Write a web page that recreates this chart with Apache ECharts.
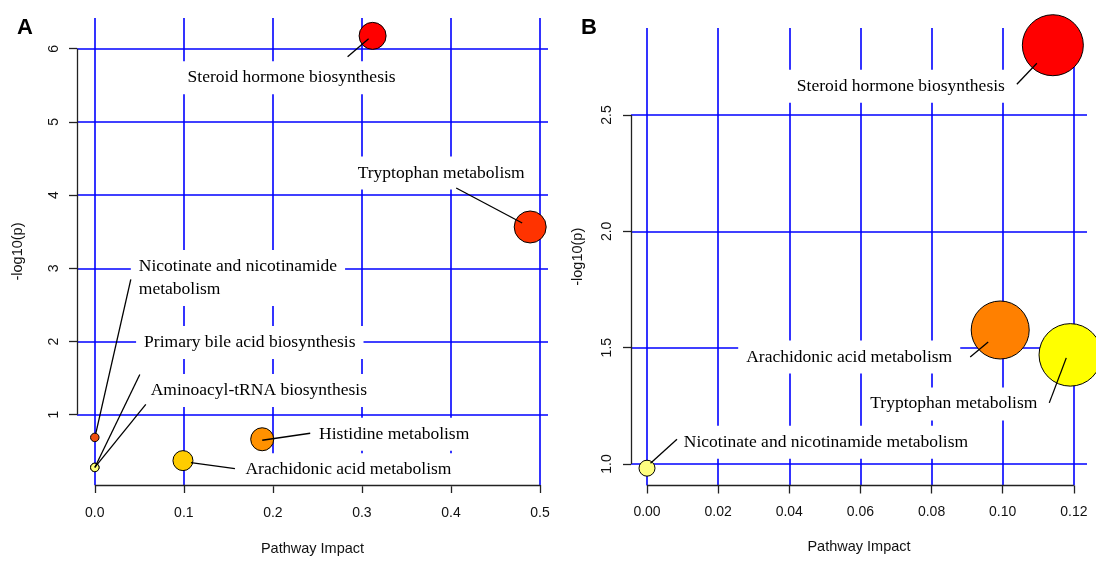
<!DOCTYPE html>
<html><head><meta charset="utf-8">
<script src="https://cdn.jsdelivr.net/npm/echarts@6/dist/echarts.min.js"></script>
<style>html,body{margin:0;padding:0;background:#fff}#c{width:1096px;height:561px}</style>
</head><body><div id="c"></div>
<script>
// ---------- Panel A data ----------
const pathwaysA = ['Steroid hormone biosynthesis', 'Tryptophan metabolism', 'Nicotinate and nicotinamide\nmetabolism',
  'Primary bile acid biosynthesis', 'Aminoacyl-tRNA biosynthesis', 'Histidine metabolism', 'Arachidonic acid metabolism'];
const impactA = [0.312, 0.489, 0, 0, 0, 0.188, 0.099];
const logPA = [6.176, 3.565, 0.69, 0.28, 0.28, 0.665, 0.373];
const xTicksA = [0, 0.1, 0.2, 0.3, 0.4, 0.5];
const yTicksA = [1, 2, 3, 4, 5, 6];
const xRangeA = [-0.0200, 0.5090];
const yRangeA = [0.04, 6.42];

// ---------- Panel B data ----------
const pathwaysB = ['Steroid hormone biosynthesis', 'Arachidonic acid metabolism', 'Tryptophan metabolism',
  'Nicotinate and nicotinamide metabolism'];
const impactB = [0.1141, 0.0993, 0.119, 0];
const logPB = [2.80, 1.576, 1.469, 0.982];
const xTicksB = [0, 0.02, 0.04, 0.06, 0.08, 0.10, 0.12];
const yTicksB = [1.0, 1.5, 2.0, 2.5];
const xRangeB = [-0.0045, 0.1237];
const yRangeB = [0.9076, 2.874];

// ---------- styles (not data) ----------
const colorsA = ['#FF0000', '#FF3300', '#F0500F', '#FFFF77', '#FFFF77', '#FF9100', '#FFCC00'];
const sizesA = [27, 32, 8.5, 8.5, 8.5, 23, 20];
const offsetsA = [[-81, 42], [-89, -54], [36, -159.5], [155, -125], [164, -77], [132, -5], [165.5, 9]];
const alignA = ['center', 'center', 'left', 'center', 'center', 'center', 'center'];
// leader line [startDx, startDy, endDx, endDy] in px relative to the bubble centre
const leadA = [[-4, 3, -25, 21], [-8, -4, -74, -39], [1, -4, 36, -158], [0, 0, 45, -93], [0, 0, 51, -63], [0, 1, 48, -6], [8, 2, 52, 8]];

const colorsB = ['#FF0000', '#FF8000', '#FFFF00', '#FFFF80'];
const sizesB = [61, 58, 62.5, 16];
const offsetsB = [[-152, 41], [-151, 27], [-116.5, 49], [179, -26]];
const alignB = ['center', 'center', 'center', 'center'];
const leadB = [[-16, 18, -36, 39], [-12, 12, -30, 27], [-4, 3, -21, 48], [3.5, -5, 30, -29]];

const SERIF = 'Liberation Serif';
const SANS = 'Liberation Sans';
const GRID_BLUE = '#0000FF';

// R-style axis lines (from first to last tick), drawn through the axes' scales
function axisSeries(idx, xr, yr, xt, yt) {
  return {
    type: 'scatter', xAxisIndex: idx, yAxisIndex: idx, data: [], z: 1, silent: true, animation: false,
    markLine: {
      silent: true, symbol: 'none', animation: false, label: { show: false },
      emphasis: { disabled: true },
      lineStyle: { color: '#222', width: 1.3, type: 'solid' },
      data: [
        [{ coord: [xr[0], yt[0]] }, { coord: [xr[0], yt[yt.length - 1]] }],
        [{ coord: [xt[0], yr[0]] }, { coord: [xt[xt.length - 1], yr[0]] }]
      ]
    }
  };
}

function bubbleSeries(idx, names, xs, ys, colors, sizes, offsets, aligns) {
  return {
    type: 'scatter', xAxisIndex: idx, yAxisIndex: idx, clip: false, animation: false, z: 3,
    data: names.map((n, i) => ({
      name: n, value: [xs[i], ys[i]], symbolSize: sizes[i],
      itemStyle: { color: colors[i] },
      label: Object.assign({ offset: offsets[i], align: aligns[i] },
        n.indexOf('\n') >= 0 ? { lineHeight: 23, padding: [5, 8] } : {})
    })),
    symbol: 'circle',
    itemStyle: { borderColor: '#000', borderWidth: 1, opacity: 1 },
    label: {
      show: true, position: 'inside', formatter: p => p.name,
      fontFamily: SERIF, fontSize: 17.5, color: '#000',
      backgroundColor: '#fff', padding: [7, 8], lineHeight: 19
    },
    emphasis: { disabled: true }
  };
}

function xAxisFor(idx, xr, xt, digits, margin, nameGap) {
  return {
    gridIndex: idx, type: 'value', min: xr[0], max: xr[1],
    axisLine: { show: false, onZero: false },
    axisTick: { show: true, length: 8, customValues: xt, lineStyle: { color: '#222', width: 1.3 } },
    axisLabel: { customValues: xt, formatter: v => Number(v).toFixed(digits), margin: margin,
      fontSize: 14, fontFamily: SANS, color: '#111' },
    splitLine: { show: true, lineStyle: { color: GRID_BLUE, width: 1.6 } },
    name: 'Pathway Impact', nameLocation: 'middle', nameGap: nameGap,
    nameTextStyle: { fontSize: 14.5, fontFamily: SANS, color: '#111' }
  };
}
function yAxisFor(idx, yr, yt, digits, margin, nameGap) {
  return {
    gridIndex: idx, type: 'value', min: yr[0], max: yr[1],
    axisLine: { show: false, onZero: false },
    axisTick: { show: true, length: 8, customValues: yt, lineStyle: { color: '#222', width: 1.3 } },
    axisLabel: { customValues: yt, formatter: v => Number(v).toFixed(digits), margin: margin, rotate: 90,
      fontSize: 14, fontFamily: SANS, color: '#111' },
    splitLine: { show: true, lineStyle: { color: GRID_BLUE, width: 1.6 } },
    name: '-log10(p)', nameLocation: 'middle', nameGap: nameGap,
    nameTextStyle: { fontSize: 14.5, fontFamily: SANS, color: '#111' }
  };
}

const chart = echarts.init(document.getElementById('c'), null, { renderer: 'canvas' });
chart.setOption({
  backgroundColor: '#fff',
  animation: false,
  title: [
    { text: 'A', left: 12, top: 12, textStyle: { fontSize: 22, fontWeight: 'bold', fontFamily: SANS, color: '#000' } },
    { text: 'B', left: 576, top: 12, textStyle: { fontSize: 22, fontWeight: 'bold', fontFamily: SANS, color: '#000' } }
  ],
  grid: [
    { left: 77, top: 18, width: 471, height: 471 },
    { left: 631, top: 28, width: 456, height: 457.5 }
  ],
  xAxis: [xAxisFor(0, xRangeA, xTicksA, 1, 21, 56), xAxisFor(1, xRangeB, xTicksB, 2, 19.5, 54)],
  yAxis: [yAxisFor(0, yRangeA, yTicksA, 0, 16, 52), yAxisFor(1, yRangeB, yTicksB, 1, 17, 46)],
  series: [
    axisSeries(0, xRangeA, yRangeA, xTicksA, yTicksA),
    axisSeries(1, xRangeB, yRangeB, xTicksB, yTicksB),
    bubbleSeries(0, pathwaysA, impactA, logPA, colorsA, sizesA, offsetsA, alignA),
    bubbleSeries(1, pathwaysB, impactB, logPB, colorsB, sizesB, offsetsB, alignB)
  ]
});

// leader lines: anchored on each bubble's pixel position from the axes
function leaders(idx, xs, ys, lead) {
  return xs.map((x, i) => {
    const p = chart.convertToPixel({ xAxisIndex: idx, yAxisIndex: idx }, [x, ys[i]]);
    const l = lead[i];
    return {
      type: 'line', z: 100, silent: true,
      shape: { x1: p[0] + l[0], y1: p[1] + l[1], x2: p[0] + l[2], y2: p[1] + l[3] },
      style: { stroke: '#000', lineWidth: 1.3 }
    };
  });
}
chart.setOption({
  graphic: leaders(0, impactA, logPA, leadA).concat(leaders(1, impactB, logPB, leadB))
});
</script></body></html>
